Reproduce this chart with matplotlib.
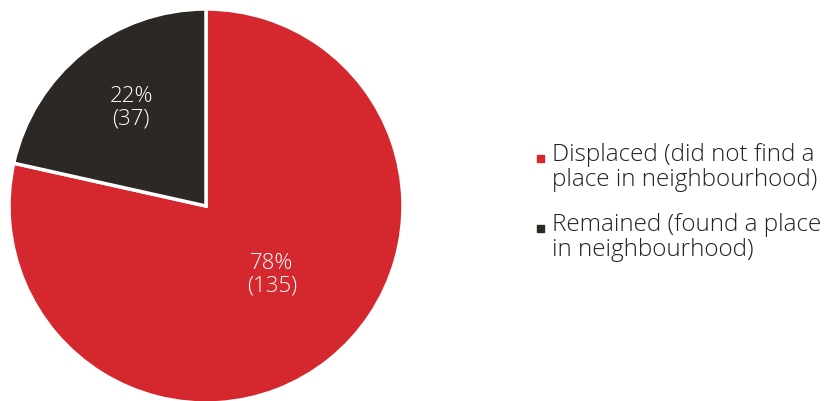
import matplotlib.pyplot as plt
from matplotlib.patches import Rectangle

labels = ['Displaced (did not find a\nplace in neighbourhood)',
          'Remained (found a place\nin neighbourhood)']
counts = [135, 37]
colors = ['#d4282e', '#2c2924']

plt.rcParams['font.family'] = ['Open Sans', 'DejaVu Sans']
W, H = 827, 401

fig = plt.figure(figsize=(W / 100, H / 100), dpi=100)
ax = fig.add_axes([9 / W, (H - 206 - 197) / H, 394 / W, 394 / H])

total = sum(counts)
wedges, _ = ax.pie(counts, colors=colors, startangle=90, counterclock=False,
                   radius=1.0, wedgeprops=dict(edgecolor='white', linewidth=2.5))
ax.set_xlim(-1, 1)
ax.set_ylim(-1, 1)
ax.axis('off')

# value labels inside slices
label_pos = [(0.335, -0.35), (-0.38, 0.5)]
for c, (x, y) in zip(counts, label_pos):
    pct = round(100 * c / total)
    ax.text(x, y, f'{pct}%\n({c})', color='white', fontsize=16, fontweight='light',
            ha='center', va='center', linespacing=1.08)

# legend drawn by hand
leg_y = [158, 228]
for lab, col, y in zip(labels, colors, leg_y):
    fig.add_artist(Rectangle(((537) / W, 1 - (y + 4) / H), 7 / W, 7 / H,
                             transform=fig.transFigure, color=col))
    fig.text(552 / W, 1 - (y - 15) / H, lab, fontsize=17.5, fontweight='light',
             color='#222222', ha='left', va='top', linespacing=1.07)

fig.savefig('out.png', dpi=100, facecolor='white')
